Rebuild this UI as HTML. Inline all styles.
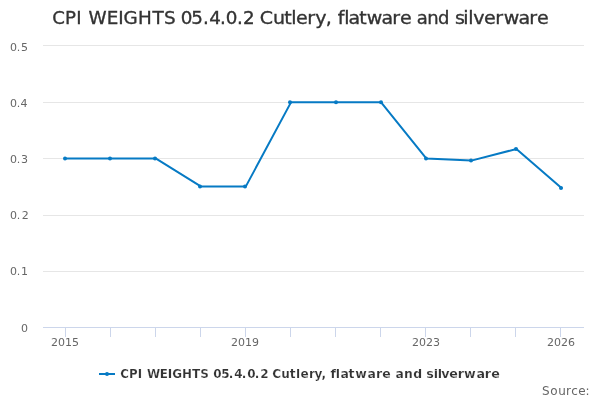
<!DOCTYPE html>
<html><head><meta charset="utf-8"><title>chart</title>
<style>
html,body{margin:0;padding:0;background:#fff;}
svg{display:block;font-family:"DejaVu Sans","Liberation Sans",sans-serif;}
</style></head><body>
<svg width="600" height="400" viewBox="0 0 600 400">
<rect x="0" y="0" width="600" height="400" fill="#ffffff"/>
<g><path d="M 43 271.5 L 584 271.5" stroke="#e6e6e6" stroke-width="1" fill="none"/><path d="M 43 215.5 L 584 215.5" stroke="#e6e6e6" stroke-width="1" fill="none"/><path d="M 43 158.5 L 584 158.5" stroke="#e6e6e6" stroke-width="1" fill="none"/><path d="M 43 102.5 L 584 102.5" stroke="#e6e6e6" stroke-width="1" fill="none"/><path d="M 43 45.5 L 584 45.5" stroke="#e6e6e6" stroke-width="1" fill="none"/></g>
<path d="M 43 327.5 L 584 327.5" stroke="#ccd6eb" stroke-width="1" fill="none"/>
<g><path d="M 65.5 327 L 65.5 337" stroke="#ccd6eb" stroke-width="1" fill="none"/><path d="M 110.5 327 L 110.5 337" stroke="#ccd6eb" stroke-width="1" fill="none"/><path d="M 155.5 327 L 155.5 337" stroke="#ccd6eb" stroke-width="1" fill="none"/><path d="M 200.5 327 L 200.5 337" stroke="#ccd6eb" stroke-width="1" fill="none"/><path d="M 245.5 327 L 245.5 337" stroke="#ccd6eb" stroke-width="1" fill="none"/><path d="M 290.5 327 L 290.5 337" stroke="#ccd6eb" stroke-width="1" fill="none"/><path d="M 335.5 327 L 335.5 337" stroke="#ccd6eb" stroke-width="1" fill="none"/><path d="M 380.5 327 L 380.5 337" stroke="#ccd6eb" stroke-width="1" fill="none"/><path d="M 425.5 327 L 425.5 337" stroke="#ccd6eb" stroke-width="1" fill="none"/><path d="M 470.5 327 L 470.5 337" stroke="#ccd6eb" stroke-width="1" fill="none"/><path d="M 515.5 327 L 515.5 337" stroke="#ccd6eb" stroke-width="1" fill="none"/><path d="M 560.5 327 L 560.5 337" stroke="#ccd6eb" stroke-width="1" fill="none"/></g>
<g font-size="18px" fill="#333333" stroke="#333333" stroke-width="0.35"><text transform="scale(1.0083,1)" x="51.72 64.42 75.7" y="24">CPI</text> <text transform="scale(1.0200,1)" x="86.69 104.79 115.97 121.19 135.39 149.4 160.86" y="24">WEIGHTS</text> <text transform="scale(1.0181,1)" x="177.47 187.87 199.49 205.52 216.19 221.67 232.88 238.6" y="24">05.4.0.2</text> <text transform="scale(1.0600,1)" x="245.11 257.55 268.14 274.85 279.35 289.82 297.51 307.23" y="24">Cutlery,</text> <text transform="scale(1.0553,1)" x="320.05 326.3 330.21 340.42 347.51 361.48 371.67 379.16" y="24">flatware</text> <text x="416.77 427.24 438.1" y="24">and</text> <text transform="scale(1.0600,1)" x="429.23 437.11 441.83 446.57 456.71 467.17 475.19 489.11 499.25 506.71" y="24">silverware</text></g>
<g font-size="11px" fill="#666666"><text x="21.01" y="332">0</text> <text x="10.01 16.76 20.91" y="275">0.1</text> <text x="10.01 16.76 21.65" y="219">0.2</text> <text x="10.01 16.76 21.02" y="163">0.3</text> <text x="10.01 16.76 20.55" y="107">0.4</text> <text x="10.01 16.76 21.06" y="51">0.5</text></g>
<g font-size="11px" fill="#666666"><text x="65" y="346" text-anchor="middle">2015</text> <text x="245" y="346" text-anchor="middle">2019</text> <text x="426" y="346" text-anchor="middle">2023</text> <text x="561" y="346" text-anchor="middle">2026</text></g>
<path d="M 65.5 158.4 L 110.59 158.4 L 155.68 158.4 L 200.77 186.4 L 245.86 186.4 L 290.95 102.35 L 336.05 102.35 L 381.14 102.35 L 426.23 158.4 L 471.32 160.6 L 516.41 149.0 L 561.5 188.06" stroke="#067ac4" stroke-width="2" fill="none" stroke-linejoin="round" stroke-linecap="round"/>
<g><circle cx="65" cy="158.4" r="2" fill="#067ac4"/><circle cx="110" cy="158.4" r="2" fill="#067ac4"/><circle cx="155" cy="158.4" r="2" fill="#067ac4"/><circle cx="200" cy="186.4" r="2" fill="#067ac4"/><circle cx="245" cy="186.4" r="2" fill="#067ac4"/><circle cx="290" cy="102.35" r="2" fill="#067ac4"/><circle cx="336" cy="102.35" r="2" fill="#067ac4"/><circle cx="381" cy="102.35" r="2" fill="#067ac4"/><circle cx="426" cy="158.4" r="2" fill="#067ac4"/><circle cx="471" cy="160.6" r="2" fill="#067ac4"/><circle cx="516" cy="149.0" r="2" fill="#067ac4"/><circle cx="561" cy="188.06" r="2" fill="#067ac4"/></g>
<path d="M 99 374 L 115 374" stroke="#067ac4" stroke-width="2" fill="none"/>
<circle cx="107" cy="374" r="2" fill="#067ac4"/>
<g font-size="12px" font-weight="bold" fill="#333333" stroke="#ffffff" stroke-width="0.2"><text transform="scale(0.9800,1)" x="122.72 131.52 140.62" y="378">CPI</text> <text transform="scale(0.9976,1)" x="147.26 160.18 168.17 172.64 182.43 192.38 200.68" y="378">WEIGHTS</text> <text transform="scale(1.0015,1)" x="212.99 220.94 228.37 233.96 241.35 246.94 254.33 259.96" y="378">05.4.0.2</text> <text transform="scale(1.0108,1)" x="269.23 278.22 286.57 292.76 297.22 305.72 311.23 318.07" y="378">Cutlery,</text> <text transform="scale(1.0427,1)" x="317.07 322.1 326.56 334.3 340.67 352.46 360.51 366.64" y="378">flatware</text> <text transform="scale(1.0362,1)" x="381.69 389.9 398.84" y="378">and</text> <text transform="scale(1.0600,1)" x="402.06 409.26 413.03 416.37 423.79 431.92 437.85 449.47 457.4 463.41" y="378">silverware</text></g>
<g font-size="12px" fill="#666666"><text x="542.12 550.33 558.23 565.98 571.24 578.3 585.48" y="395">Source:</text></g>
</svg>
</body></html>
